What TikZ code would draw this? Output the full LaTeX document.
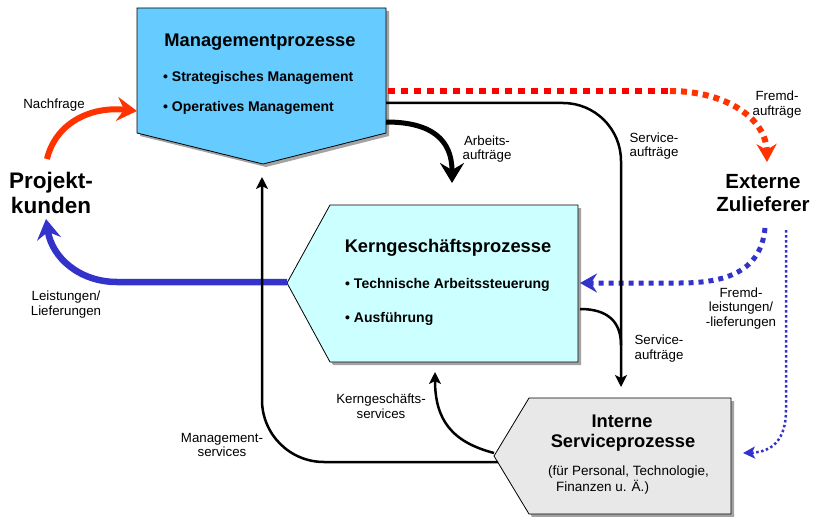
\documentclass[tikz,border=0pt]{standalone}
\usepackage{fontspec}
\setmainfont{Liberation Sans}
\usetikzlibrary{arrows.meta,shadows}
\definecolor{mgmtblue}{HTML}{66CCFF}
\definecolor{kerncyan}{HTML}{CCFFFF}
\definecolor{servgray}{HTML}{E8E8E8}
\definecolor{nachred}{HTML}{FF3300}
\definecolor{dotred}{HTML}{FF0000}
\definecolor{lblue}{HTML}{3333CC}
\begin{document}
\begin{tikzpicture}[x=1pt,y=-1pt,
  box/.style={draw=black, line width=0.8pt,
    drop shadow={shadow xshift=3pt,shadow yshift=-3pt,fill=black!45,opacity=0.8}},
  titletext/.style={font=\fontsize{18.3}{20}\selectfont\bfseries, anchor=base, inner sep=0pt},
  bullettext/.style={font=\fontsize{14}{16}\selectfont\bfseries, anchor=base west, inner sep=0pt},
  subtext/.style={font=\fontsize{13.5}{16}\selectfont, anchor=base west, inner sep=0pt},
  party/.style={font=\fontsize{22.5}{25}\selectfont\bfseries, align=center, inner sep=0pt},
  partyb/.style={font=\fontsize{20.5}{23}\selectfont\bfseries, align=center, inner sep=0pt},
  lbl/.style={font=\fontsize{13.3}{14.6}\selectfont, align=center, inner sep=0pt},
  bigred/.style={draw=nachred, line width=6pt, -{Stealth[length=20pt,width=24pt,inset=7pt]}},
  bigblue/.style={draw=lblue, line width=6.5pt, -{Stealth[length=20pt,width=24pt,inset=7pt]}},
  bigblack/.style={draw=black, line width=5pt, -{Stealth[length=20pt,width=24pt,inset=7pt]}},
  thinarrow/.style={draw=black, line width=2.5pt, -{Stealth[length=12pt,width=12pt,inset=3pt]}},
  thinline/.style={draw=black, line width=2.5pt},
  reddash/.style={draw=dotred, line width=6pt, dash pattern=on 7pt off 6pt},
  orangedash/.style={draw=nachred, line width=6pt, dash pattern=on 6pt off 5pt, -{Stealth[length=18pt,width=20pt,inset=6pt]}},
  bluedash/.style={draw=lblue, line width=5pt, dash pattern=on 5pt off 5pt, -{Stealth[length=17pt,width=19pt,inset=6pt]}},
  bluedot/.style={draw=lblue, line width=2.5pt, dash pattern=on 2.5pt off 2.5pt, -{Stealth[length=12pt,width=12pt,inset=3pt]}}
]
\useasboundingbox (0,0) rectangle (818,516);

% ---- boxes ----
\draw[box, fill=mgmtblue] (137,8) -- (386,8) -- (386,133) -- (263,164) -- (137,133) -- cycle;
\draw[box, fill=kerncyan] (330,205) -- (578,205) -- (578,362) -- (330,362) -- (287,283) -- cycle;
\draw[box, fill=servgray] (529,398) -- (731,398) -- (731,514) -- (529,514) -- (494,456) -- cycle;

% ---- box texts ----
\node[titletext] (mtitle) at (260,47) {Managementprozesse};
\node[bullettext] (mb1) at (163,82) {• Strategisches Management};
\node[bullettext] (mb2) at (163,111) {• Operatives Management};

\node[titletext] (ktitle) at (448,252) {Kerngeschäftsprozesse};
\node[bullettext] (kb1) at (345,288) {• Technische Arbeitssteuerung};
\node[bullettext] (kb2) at (345,322) {• Ausführung};

\node[titletext] (stitle1) at (622,427) {Interne};
\node[titletext] (stitle2) at (623,447) {Serviceprozesse};
\node[subtext] (ssub1) at (548,475) {(für Personal, Technologie,};
\node[subtext] (ssub2) at (556,491) {Finanzen u. Ä.)};

\node[party] (pk) at (51,193) {Projekt-\\kunden};
\node[partyb] (ez) at (763,193) {Externe\\Zulieferer};

% ---- anchor coordinates ----
\coordinate (pkTop) at (47,159);
\coordinate (pkBot) at (46,219);
\coordinate (mgL) at (137,111);
\coordinate (mgR1) at (386,122);
\coordinate (mgR2) at (386,103);
\coordinate (mgR3) at (388,91);
\coordinate (mgBot) at (262,177);
\coordinate (kernL) at (287,282);
\coordinate (kernTop) at (452,183);
\coordinate (kernR1) at (580,283);
\coordinate (kernR2) at (580,309);
\coordinate (kernBot) at (435,372);
\coordinate (isTop) at (621,387);
\coordinate (isR) at (743,453);
\coordinate (isL1) at (494,453);
\coordinate (isL2) at (498,462);
\coordinate (ezTop) at (767,162);
\coordinate (ezBot1) at (765,228);
\coordinate (ezBot2) at (786,230);
\coordinate (redJoin) at (670,91);
\coordinate (svcJoin) at (621,345);

% ---- connectors ----
\draw[bigred] (pkTop) .. controls (55,125) and (88,106) .. (mgL);
\draw[bigblue] (kernL) -- (117,282) .. controls (80,282) and (52,258) .. (pkBot);
\draw[bigblack] (mgR1) .. controls (432,122) and (452,140) .. (kernTop);

\draw[reddash] (mgR3) -- (redJoin);
\draw[orangedash] (redJoin) .. controls (725,91) and (766,118) .. (ezTop);

\draw[bluedash] (ezBot1) .. controls (761,272) and (725,283) .. (680,283) -- (kernR1);
\draw[bluedot] (ezBot2) -- (786,410) .. controls (786,440) and (772,452) .. (isR);

\draw[thinarrow, rounded corners=58pt] (mgR2) -- (621,103) -- (isTop);
\draw[thinline] (kernR2) .. controls (608,309) and (621,322) .. (svcJoin);
\draw[thinarrow] (isL1) .. controls (452,442) and (435,420) .. (kernBot);
\draw[thinarrow, rounded corners=62pt] (isL2) -- (262,462) -- (mgBot);

% ---- labels ----
\node[lbl] (lNach) at (54,105) {Nachfrage};
\node[lbl] (lLeist) at (66,304.5) {Leistungen/\\Lieferungen};
\node[lbl] (lArb) at (487,149) {Arbeits-\\aufträge};
\node[lbl] (lSvc1) at (654,146) {Service-\\aufträge};
\node[lbl] (lFremdA) at (777,104.5) {Fremd-\\aufträge};
\node[lbl] (lSvc2) at (659,348.5) {Service-\\aufträge};
\node[lbl] (lFremdL) at (741,308.5) {Fremd-\\leistungen/\\-lieferungen};
\node[lbl] (lKern) at (381,406) {Kerngeschäfts-\\services};
\node[lbl] (lMgmt) at (222,445) {Management-\\services};
\end{tikzpicture}
\end{document}
